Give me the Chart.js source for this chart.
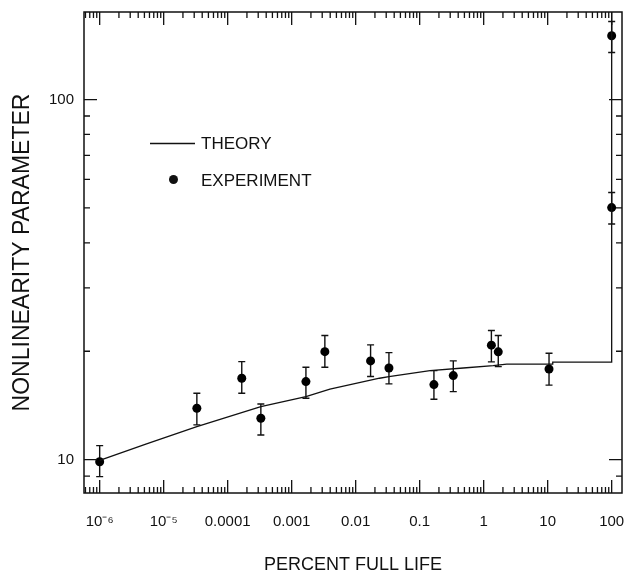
<!DOCTYPE html>
<html>
<head>
<meta charset="utf-8">
<script src="https://cdn.jsdelivr.net/npm/chart.js@4.4.1/dist/chart.umd.min.js"></script>
<style>
  body { margin: 0; background: #fff; }
  #wrap { width: 629px; height: 583px; }
</style>
</head>
<body>
<div id="wrap"><canvas id="life-chart" width="629" height="583"></canvas></div>
<script>
// theory curve (percent full life vs nonlinearity parameter)
const theoryX = [1e-6, 5.4e-6, 3.3e-5, 3.3e-4, 1.67e-3, 3.96e-3, 0.0236, 0.0331, 0.145, 0.48, 1.41, 2.29, 12, 12, 100, 100];
const theoryY = [9.95, 11.06, 12.35, 14.04, 14.96, 15.69, 16.83, 17.01, 17.67, 17.97, 18.24, 18.41, 18.41, 18.65, 18.65, 175];

// experiment points with error bars
const expX = [1e-6, 3.3e-5, 1.66e-4, 3.3e-4, 1.67e-3, 3.3e-3, 0.0171, 0.0331, 0.167, 0.335, 1.32, 1.69, 10.5, 100, 100];
const expY = [9.87, 13.89, 16.83, 13.03, 16.47, 19.95, 18.80, 17.97, 16.16, 17.12, 20.79, 19.92, 17.86, 150.3, 50.1];
const expLow = [8.97, 12.49, 15.29, 11.71, 14.81, 18.06, 17.01, 16.23, 14.72, 15.45, 18.68, 18.13, 16.10, 135.1, 45.1];
const expHigh = [10.94, 15.29, 18.72, 14.28, 18.06, 22.11, 20.83, 19.83, 17.67, 18.80, 22.83, 22.11, 19.75, 164.7, 55.2];

const xTickVals = [1e-6, 1e-5, 1e-4, 1e-3, 0.01, 0.1, 1, 10, 100];
const xTickLabels = ['10\u207B\u2076', '10\u207B\u2075', '0.0001', '0.001', '0.01', '0.1', '1', '10', '100'];
const yTickVals = [10, 100];
const yTickLabels = ['10', '100'];

const FONT = '"Liberation Sans", Arial, Helvetica, sans-serif';
const INK = '#111';

function _label_for(v, vals, labels) {
    const i = vals.findIndex(t => Math.abs(v - t) / t < 1e-6);
    return i >= 0 ? labels[i] : null;
}

function _minor_values(min, max) {
    const out = [];
    for (let e = Math.floor(Math.log10(min)); e <= Math.ceil(Math.log10(max)); e++) {
        for (let k = 1; k <= 9; k++) {
            const v = k * Math.pow(10, e);
            if (v >= min && v <= max) out.push({v, major: k === 1});
        }
    }
    return out;
}

// keep the plot frame where the reference has it
function _no_padding(scale) {
    scale.paddingLeft = 0;
    scale.paddingRight = 0;
    scale.paddingTop = 0;
    scale.paddingBottom = 0;
}

const frameTicks = {
    id: 'frameTicks',
    afterDraw(chart) {
        const {ctx, chartArea: a, scales: {x, y}} = chart;
        ctx.save();
        ctx.strokeStyle = INK;
        ctx.lineWidth = 1.5;
        ctx.strokeRect(a.left, a.top, a.right - a.left, a.bottom - a.top);
        ctx.lineWidth = 1.3;
        ctx.beginPath();
        _minor_values(x.min, x.max).forEach(t => {
            const px = x.getPixelForValue(t.v);
            const len = t.major ? 13 : 6;
            ctx.moveTo(px, a.bottom); ctx.lineTo(px, a.bottom - len);
            ctx.moveTo(px, a.top); ctx.lineTo(px, a.top + len);
        });
        _minor_values(y.min, y.max).forEach(t => {
            const py = y.getPixelForValue(t.v);
            const len = t.major ? 13 : 6;
            ctx.moveTo(a.left, py); ctx.lineTo(a.left + len, py);
            ctx.moveTo(a.right, py); ctx.lineTo(a.right - len, py);
        });
        ctx.stroke();

        // legend inside the plot
        ctx.lineWidth = 1.3;
        ctx.beginPath();
        ctx.moveTo(150, 143.5); ctx.lineTo(195, 143.5);
        ctx.stroke();
        ctx.fillStyle = INK;
        ctx.beginPath();
        ctx.arc(173.5, 179.5, 4.5, 0, Math.PI * 2);
        ctx.fill();
        ctx.font = '17px ' + FONT;
        ctx.textBaseline = 'middle';
        ctx.fillText('THEORY', 201, 144.5);
        ctx.fillText('EXPERIMENT', 201, 181);
        ctx.restore();
    }
};

const errorBars = {
    id: 'errorBars',
    beforeDatasetsDraw(chart) {
        const {ctx, chartArea: a, scales: {x, y}} = chart;
        ctx.save();
        ctx.beginPath();
        ctx.rect(a.left, a.top, a.right - a.left, a.bottom - a.top);
        ctx.clip();
        ctx.strokeStyle = INK;
        ctx.lineWidth = 1.4;
        ctx.beginPath();
        expX.forEach((xv, i) => {
            const px = x.getPixelForValue(xv);
            const lo = y.getPixelForValue(expLow[i]);
            const hi = y.getPixelForValue(expHigh[i]);
            ctx.moveTo(px, lo); ctx.lineTo(px, hi);
            ctx.moveTo(px - 3.5, lo); ctx.lineTo(px + 3.5, lo);
            ctx.moveTo(px - 3.5, hi); ctx.lineTo(px + 3.5, hi);
        });
        ctx.stroke();
        ctx.restore();
    }
};

new Chart(document.getElementById('life-chart'), {
    type: 'scatter',
    data: {
        datasets: [{
            label: 'THEORY',
            data: theoryX.map((v, i) => ({x: v, y: theoryY[i]})),
            showLine: true,
            tension: 0,
            borderColor: INK,
            borderWidth: 1.3,
            pointRadius: 0,
            fill: false
        }, {
            label: 'EXPERIMENT',
            data: expX.map((v, i) => ({x: v, y: expY[i]})),
            showLine: false,
            pointRadius: 4.5,
            pointBorderWidth: 0,
            backgroundColor: '#000',
            borderColor: '#000'
        }]
    },
    options: {
        responsive: false,
        animation: false,
        devicePixelRatio: 1,
        layout: {padding: {top: 12, right: 7, left: 0, bottom: 0}},
        plugins: {
            legend: {display: false},
            tooltip: {enabled: false}
        },
        scales: {
            x: {
                type: 'logarithmic',
                min: 5.69e-7,
                max: 145,
                grid: {display: false, drawTicks: false},
                border: {display: false},
                ticks: {
                    autoSkip: false,
                    maxRotation: 0,
                    padding: 20,
                    color: INK,
                    font: {family: FONT, size: 15},
                    callback: v => _label_for(v, xTickVals, xTickLabels)
                },
                title: {
                    display: true,
                    text: 'PERCENT FULL LIFE',
                    color: INK,
                    font: {family: FONT, size: 18},
                    padding: {top: 0, bottom: 7}
                },
                afterFit: scale => { scale.height = 90; _no_padding(scale); }
            },
            y: {
                type: 'logarithmic',
                min: 8.08,
                max: 175,
                grid: {display: false, drawTicks: false},
                border: {display: false},
                ticks: {
                    autoSkip: false,
                    padding: 10,
                    color: INK,
                    font: {family: FONT, size: 15},
                    callback: v => _label_for(v, yTickVals, yTickLabels)
                },
                title: {
                    display: true,
                    text: 'NONLINEARITY PARAMETER',
                    color: INK,
                    font: {family: FONT, size: 23},
                    padding: {top: 9, bottom: 0}
                },
                afterFit: scale => { scale.width = 84; _no_padding(scale); }
            }
        }
    },
    plugins: [errorBars, frameTicks]
});
</script>
</body>
</html>
